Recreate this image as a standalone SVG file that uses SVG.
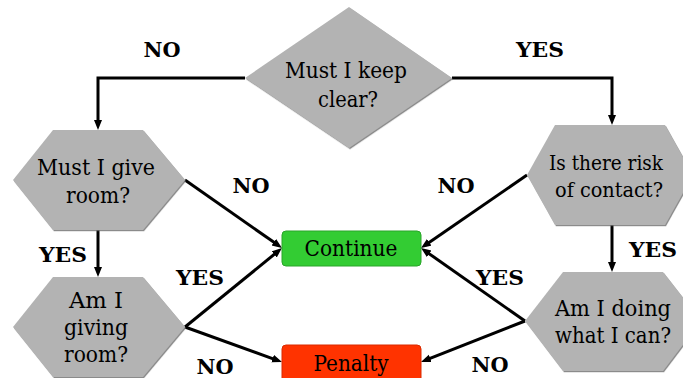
<svg xmlns="http://www.w3.org/2000/svg" width="683" height="378" viewBox="0 0 683 378">
<style>
.shape{fill:#b3b3b3;filter:url(#sh)}
.t{font-family:'DejaVu Serif','Liberation Serif',serif;font-size:22px;fill:#000;text-anchor:middle}
.lbl{font-family:'DejaVu Serif','Liberation Serif',serif;font-size:20px;font-weight:bold;fill:#000;text-anchor:middle}
.c{fill:none;stroke:#000;stroke-width:3;marker-end:url(#ah)}
</style>
<defs>
<filter id="sh" x="-5%" y="-5%" width="110%" height="110%">
<feDropShadow dx="1" dy="1.2" stdDeviation="0.6" flood-color="#6e6e6e" flood-opacity="0.8"/>
</filter>
<marker id="ah" markerUnits="userSpaceOnUse" markerWidth="12" markerHeight="10" refX="5" refY="4" orient="auto">
<path d="M0,0 L10,4 L0,8 z" fill="#000"/>
</marker>
</defs>
<rect width="683" height="378" fill="#fff"/>
<g id="connectors">
<path class="c" d="M245,78 H98 V125"/>
<path class="c" d="M452,78 H612 V120"/>
<path class="c" d="M185,180 L277.9,245.1"/>
<path class="c" d="M527,175 L425.1,245.2"/>
<path class="c" d="M98,230 V272"/>
<path class="c" d="M612,225 V267"/>
<path class="c" d="M185,327 L278.1,251.2"/>
<path class="c" d="M185,327 L277.3,360.3"/>
<path class="c" d="M525,321 L425.1,250.9"/>
<path class="c" d="M525,321 L425.6,360.2"/>
</g>
<g id="labels">
<text class="lbl" x="162" y="57" textLength="37" lengthAdjust="spacingAndGlyphs">NO</text>
<text class="lbl" x="540" y="57" textLength="48" lengthAdjust="spacingAndGlyphs">YES</text>
<text class="lbl" x="251" y="193" textLength="37" lengthAdjust="spacingAndGlyphs">NO</text>
<text class="lbl" x="456" y="193" textLength="37" lengthAdjust="spacingAndGlyphs">NO</text>
<text class="lbl" x="63" y="262" textLength="48" lengthAdjust="spacingAndGlyphs">YES</text>
<text class="lbl" x="653" y="257" textLength="48" lengthAdjust="spacingAndGlyphs">YES</text>
<text class="lbl" x="200" y="285" textLength="48" lengthAdjust="spacingAndGlyphs">YES</text>
<text class="lbl" x="500" y="285" textLength="48" lengthAdjust="spacingAndGlyphs">YES</text>
<text class="lbl" x="215" y="374" textLength="37" lengthAdjust="spacingAndGlyphs">NO</text>
<text class="lbl" x="490" y="372" textLength="37" lengthAdjust="spacingAndGlyphs">NO</text>
</g>
<g id="keep-clear">
<polygon class="shape" points="349,7 452,78 349,148 245,78"/>
<text class="t" x="346" y="78" textLength="122" lengthAdjust="spacingAndGlyphs">Must I keep</text>
<text class="t" x="348" y="107" textLength="60" lengthAdjust="spacingAndGlyphs">clear?</text>
</g>
<g id="give-room">
<polygon class="shape" points="53,130 143,130 185,180 143,230 53,230 13,180"/>
<text class="t" x="96" y="175" textLength="118" lengthAdjust="spacingAndGlyphs">Must I give</text>
<text class="t" x="98" y="203" textLength="64" lengthAdjust="spacingAndGlyphs">room?</text>
</g>
<g id="giving-room">
<polygon class="shape" points="53,277 143,277 185,327 143,377 53,377 13,327"/>
<text class="t" x="96" y="308" textLength="54" lengthAdjust="spacingAndGlyphs">Am I</text>
<text class="t" x="96" y="335" textLength="64" lengthAdjust="spacingAndGlyphs">giving</text>
<text class="t" x="96" y="362" textLength="64" lengthAdjust="spacingAndGlyphs">room?</text>
</g>
<g id="risk">
<polygon class="shape" points="555,125 665,125 693,175 665,225 555,225 527,175"/>
<text class="t" x="606" y="170" font-size="21" style="font-size:21px" textLength="114" lengthAdjust="spacingAndGlyphs">Is there risk</text>
<text class="t" x="609" y="197" font-size="21" style="font-size:21px" textLength="108" lengthAdjust="spacingAndGlyphs">of contact?</text>
</g>
<g id="doing">
<polygon class="shape" points="563,272 663,272 701,321 663,371 563,371 525,321"/>
<text class="t" x="613" y="316" textLength="116" lengthAdjust="spacingAndGlyphs">Am I doing</text>
<text class="t" x="613" y="343" textLength="116" lengthAdjust="spacingAndGlyphs">what I can?</text>
</g>
<g id="continue">
<rect x="282" y="231" width="139" height="35" rx="4" fill="#33cc33" stroke="#2aa52a" stroke-width="1"/>
<text class="t" x="351" y="256" textLength="93" lengthAdjust="spacingAndGlyphs">Continue</text>
</g>
<g id="penalty">
<rect x="282" y="345" width="139" height="40" rx="4" fill="#ff3300" stroke="#d92b00" stroke-width="1"/>
<text class="t" x="351" y="371" textLength="75" lengthAdjust="spacingAndGlyphs">Penalty</text>
</g>
</svg>
